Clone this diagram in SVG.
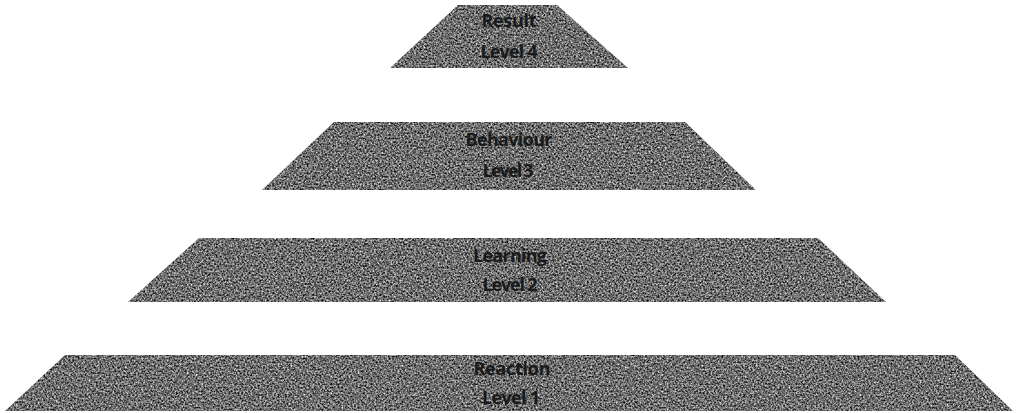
<svg xmlns="http://www.w3.org/2000/svg" width="1016" height="413" viewBox="0 0 1016 413">
<style>
.lvl{filter:url(#grain);}
.lbl{font-family:"Open Sans","Liberation Sans",sans-serif;font-weight:700;font-size:18px;fill:#1a1a1a;text-anchor:middle;}
</style>
<defs>
<filter id="grain" x="0" y="0" width="100%" height="100%" color-interpolation-filters="sRGB">
<feTurbulence type="fractalNoise" baseFrequency="0.55" numOctaves="3" seed="7" result="n"/>
<feColorMatrix in="n" type="matrix" values="1.3 0 0 0 -0.22  1.3 0 0 0 -0.22  1.3 0 0 0 -0.22  0 0 0 0 1" result="g"/>
<feComposite in="g" in2="SourceGraphic" operator="in"/>
</filter>
</defs>
<rect width="1016" height="413" fill="#ffffff"/>
<g id="level4">
<polygon class="lvl" points="458,5 557,5 628,68 390,68" fill="#777"/>
<text class="lbl" x="509" y="27" textLength="55">Result</text>
<text class="lbl" x="509" y="58" textLength="57">Level 4</text>
</g>
<g id="level3">
<polygon class="lvl" points="334,122 685,122 756,190 262,190" fill="#777"/>
<text class="lbl" x="509" y="146" textLength="87">Behaviour</text>
<text class="lbl" x="508" y="177" textLength="51">Level 3</text>
</g>
<g id="level2">
<polygon class="lvl" points="199,238 818,238 886,302 128,302" fill="#777"/>
<text class="lbl" x="510" y="262" textLength="74">Learning</text>
<text class="lbl" x="510" y="291" textLength="55">Level 2</text>
</g>
<g id="level1">
<polygon class="lvl" points="65,355 955,355 1013,411 5,411" fill="#777"/>
<text class="lbl" x="512" y="375" textLength="77">Reaction</text>
<text class="lbl" x="511" y="404" textLength="58">Level 1</text>
</g>
<g id="connectors"></g>
</svg>
